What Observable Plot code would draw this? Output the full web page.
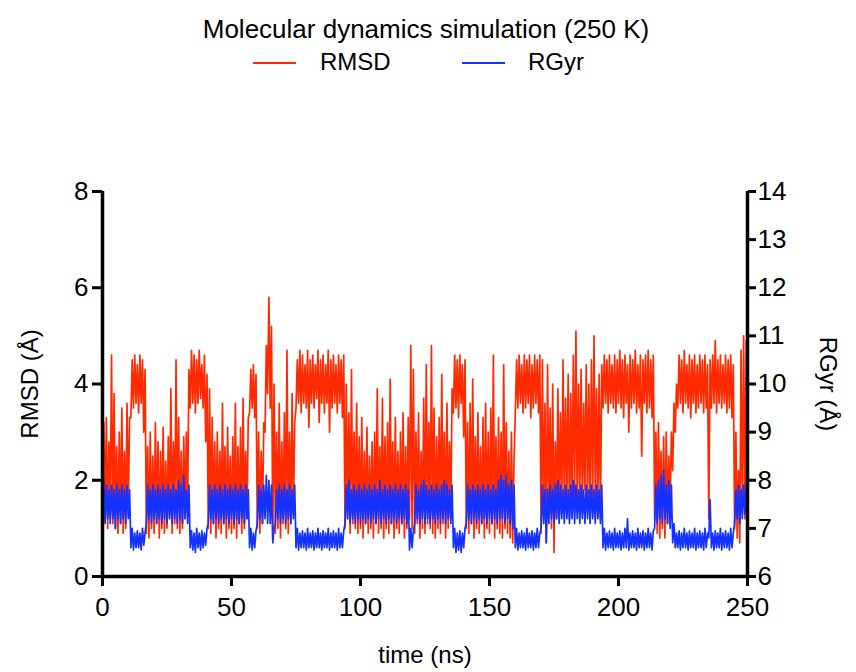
<!DOCTYPE html>
<html>
<head>
<meta charset="utf-8">
<script src="https://cdn.jsdelivr.net/npm/d3@7"></script>
<script src="https://cdn.jsdelivr.net/npm/@observablehq/plot@0.6"></script>
<style>
  body { margin: 0; background: #fff; font-family: "Liberation Sans", Arial, Helvetica, sans-serif; color: #000; }
  #wrap { position: relative; width: 856px; height: 672px; overflow: hidden; }
  #head { position: relative; width: 856px; height: 80px; }
  #title { position: absolute; left: 0; top: 14px; width: 852px; text-align: center; font-size: 26px; line-height: 30px; }
  .sw { position: absolute; height: 2px; width: 43px; top: 62px; }
  .lg { position: absolute; top: 48px; font-size: 24px; line-height: 28px; }
</style>
</head>
<body>
<div id="wrap">
  <div id="head">
    <div id="title">Molecular dynamics simulation (250 K)</div>
    <div class="sw" id="sw1" style="left:253px"></div>
    <div class="lg" id="lg1" style="left:320px"></div>
    <div class="sw" id="sw2" style="left:462px"></div>
    <div class="lg" id="lg2" style="left:528px"></div>
  </div>
  <div id="chart"></div>
</div>
<script>
// ---- data (one low/high pair per ns) ----
const seriesNames = ["RMSD", "RGyr"];
const seriesColors = ["#ff2a00", "#1432ff"];

const xTicks = [0, 50, 100, 150, 200, 250];
const rmsdTicks = [0, 2, 4, 6, 8];
const rgyrTicks = [6, 7, 8, 9, 10, 11, 12, 13, 14];

const rmsdLo = [
 0.0,1.2,1.0,1.3,1.1,1.0,0.9,1.1,0.9,1.0,
 1.4,3.3,3.5,3.6,3.4,3.6,3.0,0.9,0.8,1.0,
 0.9,1.1,0.8,1.0,0.9,1.0,1.2,0.9,1.1,1.0,
 0.9,1.0,1.2,1.5,3.5,3.6,3.4,3.6,3.7,3.5,
 2.8,1.0,0.9,1.1,0.8,1.0,0.9,1.1,0.8,1.0,
 0.9,1.0,0.8,1.1,0.9,1.0,1.2,3.4,3.5,3.3,
 1.0,0.9,1.1,3.0,3.8,3.5,0.8,0.9,1.0,0.8,
 1.1,1.0,0.9,1.1,1.3,3.5,3.6,3.4,3.6,3.5,
 3.1,3.6,3.5,3.7,3.2,3.6,3.4,3.6,3.0,3.5,
 3.6,3.4,3.6,3.3,1.0,1.2,0.9,1.1,1.0,0.9,
 1.0,0.8,1.1,0.9,1.0,0.8,1.1,0.9,1.0,0.8,
 1.0,0.9,1.1,0.8,1.0,0.9,1.1,0.8,1.0,1.2,
 1.0,0.9,1.1,0.8,1.0,0.9,1.1,1.0,0.9,0.8,
 1.0,0.9,1.1,0.8,1.0,1.3,3.4,3.5,3.3,3.6,
 2.9,1.0,0.9,1.1,0.8,1.0,0.9,1.1,0.8,1.0,
 0.9,1.1,0.8,1.0,0.9,0.8,1.0,0.9,0.8,0.7,
 3.4,3.5,3.6,3.4,3.5,3.6,3.3,3.5,3.6,3.4,
 0.9,1.2,0.7,1.3,1.0,0.5,1.2,1.5,1.3,1.4,
 1.6,1.2,1.5,1.7,1.4,1.6,1.3,1.8,1.5,1.4,
 1.7,1.6,1.5,1.2,3.5,3.6,3.4,3.6,3.5,3.4,
 3.6,3.5,3.3,3.6,3.0,3.5,3.6,3.4,3.5,2.5,
 3.6,3.4,3.5,3.3,1.2,0.9,0.8,1.0,0.8,1.1,
 1.4,2.2,3.0,3.5,3.6,3.4,3.6,3.5,3.3,3.6,
 3.4,3.5,3.6,3.4,3.5,1.2,3.5,3.6,3.4,3.6,
 3.5,3.6,3.4,3.5,3.3,1.0,0.8,0.7,1.3,1.2
];
const rmsdHi = [
 3.2,3.3,2.8,4.6,3.8,2.7,3.0,3.5,2.6,3.6,
 3.3,4.5,4.6,4.4,4.6,4.5,4.3,2.7,3.0,2.5,
 3.2,2.8,2.6,3.1,2.4,2.9,3.9,2.8,4.5,3.3,
 2.6,2.9,3.0,4.3,4.7,4.6,4.5,4.7,4.4,4.6,
 4.2,3.9,3.3,2.8,3.0,2.6,3.6,2.7,3.1,2.5,
 2.9,3.6,2.7,3.1,3.7,2.6,3.3,4.3,4.4,4.2,
 3.0,2.6,3.2,4.8,5.8,5.2,4.0,3.0,3.6,2.8,
 3.4,4.7,3.0,3.8,3.2,4.5,4.7,4.6,4.4,4.7,
 4.5,4.6,4.4,4.7,4.5,4.6,4.4,4.7,4.5,4.6,
 4.4,4.6,4.5,4.6,4.0,3.4,4.3,3.0,3.6,2.9,
 3.3,2.6,3.1,2.5,2.8,3.0,3.9,2.7,3.7,2.9,
 3.2,4.1,2.8,3.3,2.6,3.0,3.4,2.7,3.3,4.8,
 4.3,3.0,3.4,2.6,3.7,4.4,3.2,4.8,3.5,2.9,
 3.3,4.2,3.0,3.6,2.8,3.9,4.6,4.5,4.6,4.4,
 4.5,3.2,3.6,4.1,2.9,3.4,2.7,3.3,3.6,3.0,
 3.5,4.6,2.9,3.3,3.0,4.4,3.2,2.6,3.0,2.4,
 4.5,4.6,4.4,4.6,4.5,4.6,4.4,4.6,4.5,4.6,
 4.5,3.6,4.4,3.5,4.0,2.8,3.9,3.4,4.5,3.7,
 4.2,3.8,4.6,5.1,4.0,4.3,3.6,4.4,4.0,4.5,
 5.0,3.9,4.2,4.4,4.6,4.5,4.6,4.4,4.6,4.5,
 4.7,4.5,4.6,4.4,4.6,4.5,4.7,4.4,4.6,4.5,
 4.6,4.7,4.5,4.6,3.0,3.2,2.6,2.9,3.0,2.5,
 3.0,3.6,4.0,4.6,4.5,4.7,4.4,4.6,4.5,4.6,
 4.4,4.6,4.5,4.6,4.4,4.5,4.6,4.9,4.5,4.6,
 4.4,4.6,4.5,4.6,4.4,3.0,2.2,4.7,5.0,4.9
];
const rgyrLo = [
 7.3,7.1,7.2,7.1,7.2,7.0,7.2,7.1,7.2,7.1,
 7.2,6.6,6.55,6.6,6.6,6.55,6.65,7.1,7.2,7.1,
 7.2,7.1,7.2,7.1,7.2,7.1,7.2,7.1,7.2,7.1,
 7.2,7.1,7.2,7.1,6.6,6.55,6.5,6.6,6.55,6.6,
 6.65,7.1,7.2,7.1,7.2,7.1,7.2,7.1,7.2,7.1,
 7.2,7.1,7.2,7.1,7.2,7.1,7.2,6.6,6.55,6.6,
 7.1,7.2,7.1,7.2,7.1,7.1,6.7,7.1,7.2,7.1,
 7.2,7.1,7.2,7.1,7.2,6.6,6.55,6.6,6.6,6.55,
 6.6,6.6,6.55,6.6,6.6,6.55,6.6,6.6,6.55,6.6,
 6.6,6.55,6.6,6.6,7.1,7.2,7.1,7.2,7.1,7.2,
 7.1,7.2,7.1,7.2,7.1,7.2,7.1,7.2,7.1,7.2,
 7.1,7.2,7.1,7.2,7.1,7.2,7.1,7.2,7.1,6.55,
 6.6,7.1,7.2,7.1,7.2,7.1,7.2,7.1,7.2,7.1,
 7.2,7.1,7.2,7.1,7.2,7.1,6.6,6.5,6.55,6.5,
 6.6,7.1,7.2,7.1,7.2,7.1,7.2,7.1,7.2,7.1,
 7.2,7.1,7.2,7.1,7.2,7.2,7.1,7.2,7.1,7.0,
 6.6,6.55,6.6,6.6,6.55,6.6,6.6,6.55,6.6,6.6,
 7.0,7.1,6.7,7.1,7.2,7.1,7.2,7.1,7.2,7.1,
 7.2,7.1,7.2,7.1,7.2,7.1,7.2,7.1,7.2,7.1,
 7.2,7.1,7.2,7.1,6.6,6.55,6.6,6.6,6.55,6.6,
 6.6,6.55,6.6,6.6,6.55,6.6,6.6,6.55,6.6,6.6,
 6.55,6.6,6.6,6.55,7.0,7.1,7.2,7.1,7.2,7.1,
 7.0,6.7,6.6,6.6,6.55,6.6,6.6,6.55,6.6,6.6,
 6.55,6.6,6.6,6.55,6.6,6.8,6.6,6.55,6.6,6.6,
 6.55,6.6,6.6,6.55,6.6,7.1,7.2,7.1,7.2,7.3
];
const rgyrHi = [
 8.0,7.9,7.8,7.9,7.8,7.9,7.8,7.9,7.8,7.9,
 7.8,7.0,6.9,6.95,6.9,7.0,6.9,7.9,7.8,7.9,
 7.8,7.9,7.8,7.9,7.8,7.9,7.8,7.9,7.8,8.0,
 7.9,8.1,7.8,7.9,6.95,6.9,7.0,6.9,6.95,6.9,
 7.0,7.9,7.8,7.9,7.8,7.9,7.8,7.9,7.8,7.9,
 7.8,7.9,7.8,7.9,7.8,7.9,7.8,7.0,6.9,6.95,
 7.9,7.8,7.9,8.1,8.0,7.9,7.0,7.8,7.9,7.8,
 7.9,7.8,7.9,7.8,7.9,7.0,6.9,6.95,6.9,7.0,
 6.9,6.95,6.9,7.0,6.9,6.95,6.9,7.0,6.9,6.95,
 6.9,7.0,6.9,6.95,7.9,8.0,7.8,7.9,7.8,7.9,
 7.8,7.9,7.8,7.9,7.8,7.9,7.8,8.0,7.8,7.9,
 7.8,7.9,7.8,7.9,7.8,7.9,7.8,7.9,7.8,7.0,
 6.95,7.9,7.8,7.9,8.0,7.9,7.8,7.9,7.8,7.9,
 7.8,7.9,8.0,7.9,7.8,7.9,7.0,6.9,6.95,6.9,
 7.0,7.9,7.8,7.9,7.8,7.9,7.8,7.9,7.8,7.9,
 7.8,7.9,7.8,8.0,8.1,8.0,8.1,7.9,8.0,7.9,
 7.0,6.9,6.95,6.9,7.0,6.9,6.95,6.9,7.0,6.9,
 7.9,7.8,7.8,7.9,7.8,7.9,8.0,7.9,7.8,7.9,
 7.8,7.9,8.0,7.9,7.8,7.9,7.8,7.9,7.8,7.9,
 7.8,7.9,7.8,7.9,7.0,6.9,6.95,6.9,7.0,6.9,
 6.95,6.9,7.0,7.2,6.9,6.95,6.9,7.0,6.9,6.95,
 6.9,7.0,6.9,6.95,7.9,8.0,8.1,8.2,7.9,8.0,
 7.9,7.1,6.9,6.95,6.9,7.0,6.9,6.95,6.9,7.0,
 6.9,6.95,6.9,7.0,6.9,7.6,6.9,6.95,6.9,7.0,
 6.9,6.95,6.9,7.0,6.9,7.8,7.9,7.8,7.9,7.9
];

// ---- build line tables (low sample at the bin start, high sample mid-bin) ----
function pairs(lo, hi) {
  const out = [];
  lo.forEach((v, i) => { out.push({t: i, v}); out.push({t: i + 0.5, v: hi[i]}); });
  return out;
}
const rmsdPts = pairs(rmsdLo, rmsdHi);
const rgyrPts = pairs(rgyrLo, rgyrHi);

const rmsdDomain = [rmsdTicks[0], rmsdTicks[rmsdTicks.length - 1]];
const rgyrDomain = [rgyrTicks[0], rgyrTicks[rgyrTicks.length - 1]];
const k = (rmsdDomain[1] - rmsdDomain[0]) / (rgyrDomain[1] - rgyrDomain[0]);
const toLeft = v => rmsdDomain[0] + (v - rgyrDomain[0]) * k;
const toRight = v => rgyrDomain[0] + (v - rmsdDomain[0]) / k;

// legend
document.getElementById("sw1").style.background = seriesColors[0];
document.getElementById("sw2").style.background = seriesColors[1];
document.getElementById("lg1").textContent = seriesNames[0];
document.getElementById("lg2").textContent = seriesNames[1];

const font = '"Liberation Sans", Arial, Helvetica, sans-serif';
const chart = Plot.plot({
  width: 856,
  height: 592,
  marginTop: 111,
  marginBottom: 96,
  marginLeft: 102,
  marginRight: 109,
  x: {domain: [xTicks[0], xTicks[xTicks.length - 1]]},
  y: {domain: rmsdDomain},
  style: {fontFamily: font, fontSize: "26px", color: "#000", background: "#fff", overflow: "visible"},
  marks: [
    Plot.line(rmsdPts, {x: "t", y: "v", stroke: seriesColors[0], strokeWidth: 1.7}),
    Plot.line(rgyrPts, {x: "t", y: d => toLeft(d.v), stroke: seriesColors[1], strokeWidth: 1.7}),
    Plot.ruleY([rmsdDomain[0]], {stroke: "#000", strokeWidth: 3.5}),
    Plot.ruleX([xTicks[0], xTicks[xTicks.length - 1]], {stroke: "#000", strokeWidth: 3.5}),
    Plot.axisX({ticks: xTicks, tickSize: 10, tickPadding: 11, fontSize: 26, strokeWidth: 3, label: null}),
    Plot.axisY({ticks: rmsdTicks, tickSize: 10, tickPadding: 4, fontSize: 26, strokeWidth: 3, label: null}),
    Plot.axisY({anchor: "right", ticks: rgyrTicks.map(toLeft), tickFormat: d => Math.round(toRight(d)), tickSize: 8, tickPadding: 2, fontSize: 26, strokeWidth: 3, label: null}),
    Plot.text(["RMSD (Å)"], {text: d => d, frameAnchor: "left", dx: -72, rotate: -90, textAnchor: "middle", lineAnchor: "middle", fontSize: 24}),
    Plot.text(["RGyr (Å)"], {text: d => d, frameAnchor: "right", dx: 80, rotate: 90, textAnchor: "middle", lineAnchor: "middle", fontSize: 24}),
    Plot.text(["time (ns)"], {text: d => d, frameAnchor: "bottom", dy: 79, textAnchor: "middle", lineAnchor: "middle", fontSize: 24})
  ]
});
document.getElementById("chart").appendChild(chart);
</script>
</body>
</html>
